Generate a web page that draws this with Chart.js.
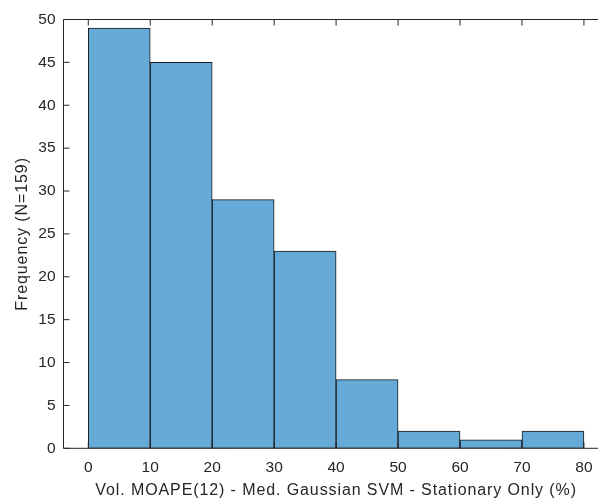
<!DOCTYPE html>
<html><head><meta charset="utf-8">
<script src="https://cdn.jsdelivr.net/npm/chart.js@4"></script>
<style>html,body{margin:0;padding:0;overflow:hidden;background:#fff}
#wrap{width:620px;height:500px;position:relative}</style></head>
<body><div id="wrap"><canvas id="c" width="620" height="500"></canvas></div>
<script>
const binEdges = [0, 10, 20, 30, 40, 50, 60, 70, 80];
const counts = [49, 45, 29, 23, 8, 2, 1, 2];
const xTicks = [0, 10, 20, 30, 40, 50, 60, 70, 80];
const yTicks = [0, 5, 10, 15, 20, 25, 30, 35, 40, 45, 50];
const xLabel = 'Vol. MOAPE(12) - Med. Gaussian SVM - Stationary Only (%)';
const yLabel = 'Frequency (N=159)';

const points = counts.map((c, i) => ({ x: (binEdges[i] + binEdges[i + 1]) / 2, y: c }));
const AX = '#262626';
const FONT = '"Liberation Sans", Arial, Helvetica, sans-serif';

const boxPlugin = {
  id: 'box',
  afterLayout(chart) {
    Object.values(chart.scales).forEach(s => {
      if (s._lsWrapped) return;
      const orig = s.drawTitle.bind(s);
      s.drawTitle = function () {
        const ctx = this.ctx;
        const prev = ctx.letterSpacing;
        ctx.letterSpacing = '0.9px';
        orig();
        ctx.letterSpacing = prev || '0px';
      };
      s._lsWrapped = true;
    });
  },
  afterDatasetsDraw(chart) {
    const ctx = chart.ctx;
    const { left, top, right, bottom } = chart.chartArea;
    const xs = chart.scales.x, ys = chart.scales.y;
    ctx.save();
    ctx.strokeStyle = AX;
    ctx.lineWidth = 1;
    ctx.beginPath();
    ctx.moveTo(left, bottom); ctx.lineTo(left, top); ctx.lineTo(right, top); ctx.lineTo(right, bottom); ctx.lineTo(left, bottom);
    xTicks.forEach(v => {
      const p = xs.getPixelForValue(v);
      ctx.moveTo(p, bottom); ctx.lineTo(p, bottom - 6);
      ctx.moveTo(p, top); ctx.lineTo(p, top + 6);
    });
    yTicks.forEach(v => {
      const p = ys.getPixelForValue(v);
      ctx.moveTo(left, p); ctx.lineTo(left + 6, p);
      ctx.moveTo(right, p); ctx.lineTo(right - 6, p);
    });
    ctx.stroke();
    ctx.restore();
  }
};

new Chart(document.getElementById('c'), {
  type: 'bar',
  data: {
    datasets: [{
      data: points,
      backgroundColor: 'rgb(102,170,215)',
      borderColor: '#1a1a1a',
      borderWidth: 1,
      barPercentage: 1,
      categoryPercentage: 1,
      borderSkipped: false
    }]
  },
  options: {
    responsive: false,
    devicePixelRatio: 1,
    animation: false,
    layout: { padding: { top: 19.5, right: 11.3, left: 0, bottom: 0 } },
    plugins: { legend: { display: false }, tooltip: { enabled: false } },
    scales: {
      x: {
        type: 'linear', min: -4, max: 84, offset: false,
        afterBuildTicks: s => { s.ticks = xTicks.map(v => ({ value: v })); },
        afterFit: s => { s.height = 51.7; },
        grid: { display: false, drawTicks: false, offset: false },
        border: { display: false },
        ticks: { color: AX, font: { family: FONT, size: 15.5 }, padding: 10, maxRotation: 0, autoSkip: false },
        title: { display: true, text: xLabel, color: AX, font: { family: FONT, size: 16 }, padding: { top: 0, bottom: 0 } }
      },
      y: {
        min: 0, max: 50,
        afterBuildTicks: s => { s.ticks = yTicks.map(v => ({ value: v })); },
        afterFit: s => { s.width = 63.5; },
        grid: { display: false, drawTicks: false },
        border: { display: false },
        ticks: { color: AX, font: { family: FONT, size: 15.5 }, padding: 8, autoSkip: false },
        title: { display: true, text: yLabel, color: AX, font: { family: FONT, size: 16 }, padding: { top: 12.5, bottom: 0 } }
      }
    }
  },
  plugins: [boxPlugin]
});
</script></body></html>
